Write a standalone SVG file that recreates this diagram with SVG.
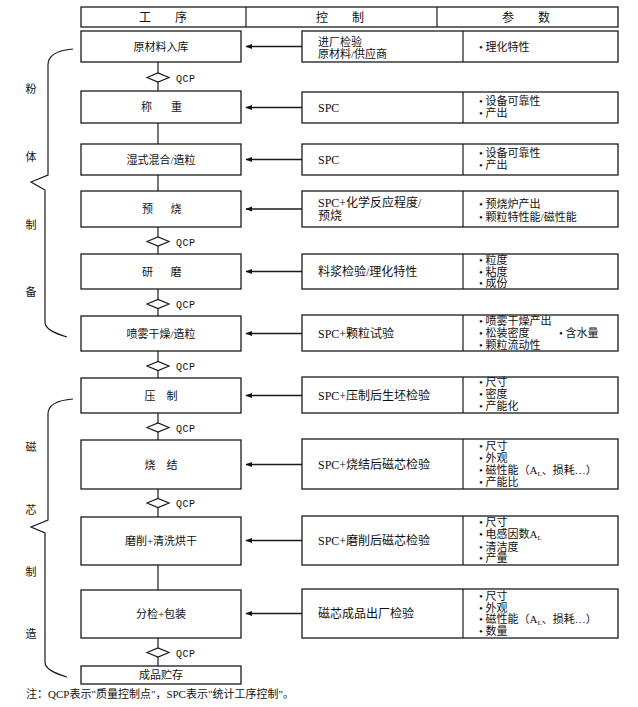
<svg xmlns="http://www.w3.org/2000/svg" width="638" height="707" viewBox="0 0 638 707">
<defs>
<marker id="ah" markerWidth="7" markerHeight="6" refX="6" refY="3" orient="auto" markerUnits="userSpaceOnUse">
<path d="M0,0.6 L6.5,3 L0,5.4 z" fill="#111"/>
</marker>
</defs>
<style>
.box{fill:#fff;stroke:#1a1a1a;stroke-width:1.3}
.ln{fill:none;stroke:#1a1a1a;stroke-width:1.2}
.dm{fill:#fff;stroke:#1a1a1a;stroke-width:1.2}
.ar{stroke:#1a1a1a;stroke-width:1.3;marker-end:url(#ah)}
.t{font-family:'Liberation Serif','Noto Sans CJK SC',serif;font-size:11px;fill:#111}
.c{text-anchor:middle}
.h{font-size:12px}
.k{font-size:12px}
.q{font-family:'Liberation Mono','Noto Sans CJK SC',monospace;font-size:10px;letter-spacing:0.5px;fill:#111}
.sub{font-size:7px}
</style>
<rect width="638" height="707" fill="#fff"/>

<g id="header">
<rect class="box" x="81" y="7" width="537" height="20"/>
<line class="ln" x1="246" y1="7" x2="246" y2="27"/>
<line class="ln" x1="437" y1="7" x2="437" y2="27"/>
<text class="t c h" x="163" y="21.5">工　　序</text>
<text class="t c h" x="340" y="21.5">控　　制</text>
<text class="t c h" x="526" y="21.5">参　　数</text>
</g>

<g id="side-labels">
<path class="ln" d="M73,49 C60,50 48,54 48,65 L48,175 L31,182 L45,190 L45,322 C45,329 54,333 67,337"/>
<path class="ln" d="M73,399 C60,400 48,404 48,414 L48,520 L31,527 L45,533 L45,662 C45,669 54,673 67,677"/>
<text class="t c" x="31" y="93">粉</text>
<text class="t c" x="31" y="161">体</text>
<text class="t c" x="31" y="229">制</text>
<text class="t c" x="31" y="296">备</text>
<text class="t c" x="31" y="451">磁</text>
<text class="t c" x="31" y="514">芯</text>
<text class="t c" x="31" y="576">制</text>
<text class="t c" x="31" y="638">造</text>
</g>

<g id="connectors">
<line class="ln" x1="158" y1="62" x2="158" y2="91"/>
<line class="ln" x1="158" y1="123" x2="158" y2="144"/>
<line class="ln" x1="158" y1="175" x2="158" y2="191"/>
<line class="ln" x1="158" y1="227" x2="158" y2="254"/>
<line class="ln" x1="158" y1="289" x2="158" y2="316"/>
<line class="ln" x1="158" y1="351" x2="158" y2="378"/>
<line class="ln" x1="158" y1="413" x2="158" y2="440"/>
<line class="ln" x1="158" y1="489" x2="158" y2="517"/>
<line class="ln" x1="158" y1="565" x2="158" y2="590"/>
<line class="ln" x1="158" y1="638" x2="158" y2="666"/>
<line class="ar" x1="302" y1="46.5" x2="246" y2="46.5"/>
<line class="ar" x1="302" y1="107.5" x2="246" y2="107.5"/>
<line class="ar" x1="302" y1="159.5" x2="246" y2="159.5"/>
<line class="ar" x1="302" y1="209" x2="246" y2="209"/>
<line class="ar" x1="302" y1="271.5" x2="246" y2="271.5"/>
<line class="ar" x1="302" y1="333.5" x2="246" y2="333.5"/>
<line class="ar" x1="302" y1="395.5" x2="246" y2="395.5"/>
<line class="ar" x1="302" y1="464.5" x2="246" y2="464.5"/>
<line class="ar" x1="302" y1="540.5" x2="246" y2="540.5"/>
<line class="ar" x1="302" y1="613.5" x2="246" y2="613.5"/>
</g>

<g id="qcp-points">
<path class="dm" d="M147,77.5 L158,73 L169,77.5 L158,82 z"/>
<text class="q" x="176" y="81.5">QCP</text>
<path class="dm" d="M147,241.5 L158,237 L169,241.5 L158,246 z"/>
<text class="q" x="176" y="245.5">QCP</text>
<path class="dm" d="M147,304 L158,299.5 L169,304 L158,308.5 z"/>
<text class="q" x="176" y="308">QCP</text>
<path class="dm" d="M147,366 L158,361.5 L169,366 L158,370.5 z"/>
<text class="q" x="176" y="370">QCP</text>
<path class="dm" d="M147,427.5 L158,423 L169,427.5 L158,432 z"/>
<text class="q" x="176" y="431.5">QCP</text>
<path class="dm" d="M147,503 L158,498.5 L169,503 L158,507.5 z"/>
<text class="q" x="176" y="507">QCP</text>
<path class="dm" d="M147,652.5 L158,648 L169,652.5 L158,657 z"/>
<text class="q" x="176" y="656.5">QCP</text>
</g>

<g id="step1">
<rect class="box" x="81" y="31" width="160" height="31"/>
<text class="t c" x="161" y="50.5">原材料入库</text>
</g>
<g id="ctrl1">
<rect class="box" x="302" y="31" width="316" height="31"/>
<line class="ln" x1="463" y1="31" x2="463" y2="62"/>
<text class="t" x="318" y="45.5">进厂检验</text>
<text class="t" x="318" y="57.5">原材料/供应商</text>
<text class="t" x="479" y="51">• 理化特性</text>
</g>

<g id="step2">
<rect class="box" x="81" y="91" width="160" height="32"/>
<text class="t c" x="161" y="111" letter-spacing="-1">称　　重</text>
</g>
<g id="ctrl2">
<rect class="box" x="302" y="92" width="316" height="31"/>
<line class="ln" x1="463" y1="92" x2="463" y2="123"/>
<text class="t k" x="318" y="112">SPC</text>
<text class="t" x="479" y="105">• 设备可靠性</text>
<text class="t" x="479" y="117">• 产出</text>
</g>

<g id="step3">
<rect class="box" x="81" y="144" width="160" height="31"/>
<text class="t c" x="161" y="163.5">湿式混合/造粒</text>
</g>
<g id="ctrl3">
<rect class="box" x="302" y="144" width="316" height="31"/>
<line class="ln" x1="463" y1="144" x2="463" y2="175"/>
<text class="t k" x="318" y="164">SPC</text>
<text class="t" x="479" y="157">• 设备可靠性</text>
<text class="t" x="479" y="169">• 产出</text>
</g>

<g id="step4">
<rect class="box" x="81" y="191" width="160" height="36"/>
<text class="t c" x="161" y="213" letter-spacing="-1.5">预　　烧</text>
</g>
<g id="ctrl4">
<rect class="box" x="302" y="191" width="316" height="36"/>
<line class="ln" x1="463" y1="191" x2="463" y2="227"/>
<text class="t k" x="318" y="207">SPC+化学反应程度/</text>
<text class="t k" x="318" y="220">预烧</text>
<text class="t" x="479" y="208">• 预烧炉产出</text>
<text class="t" x="479" y="221">• 颗粒特性能/磁性能</text>
</g>

<g id="step5">
<rect class="box" x="81" y="254" width="160" height="35"/>
<text class="t c" x="161" y="275.5" letter-spacing="-1.5">研　　磨</text>
</g>
<g id="ctrl5">
<rect class="box" x="302" y="254" width="316" height="35"/>
<line class="ln" x1="463" y1="254" x2="463" y2="289"/>
<text class="t k" x="318" y="276">料浆检验/理化特性</text>
<text class="t" x="479" y="264">• 粒度</text>
<text class="t" x="479" y="276">• 粘度</text>
<text class="t" x="479" y="287">• 成份</text>
</g>

<g id="step6">
<rect class="box" x="81" y="316" width="160" height="35"/>
<text class="t c" x="161" y="337.5">喷雾干燥/造粒</text>
</g>
<g id="ctrl6">
<rect class="box" x="302" y="315" width="316" height="36"/>
<line class="ln" x1="463" y1="315" x2="463" y2="351"/>
<text class="t k" x="318" y="338">SPC+颗粒试验</text>
<text class="t" x="479" y="325">• 喷雾干燥产出</text>
<text class="t" x="479" y="337">• 松装密度</text>
<text class="t" x="559" y="337">• 含水量</text>
<text class="t" x="479" y="349">• 颗粒流动性</text>
</g>

<g id="step7">
<rect class="box" x="81" y="378" width="160" height="35"/>
<text class="t c" x="161" y="399.5">压　制</text>
</g>
<g id="ctrl7">
<rect class="box" x="302" y="377" width="316" height="36"/>
<line class="ln" x1="463" y1="377" x2="463" y2="413"/>
<text class="t k" x="318" y="400">SPC+压制后生坯检验</text>
<text class="t" x="479" y="386">• 尺寸</text>
<text class="t" x="479" y="398">• 密度</text>
<text class="t" x="479" y="410">• 产能化</text>
</g>

<g id="step8">
<rect class="box" x="81" y="440" width="160" height="49"/>
<text class="t c" x="161" y="468.5">烧　结</text>
</g>
<g id="ctrl8">
<rect class="box" x="302" y="439" width="316" height="50"/>
<line class="ln" x1="463" y1="439" x2="463" y2="489"/>
<text class="t k" x="318" y="469">SPC+烧结后磁芯检验</text>
<text class="t" x="479" y="450">• 尺寸</text>
<text class="t" x="479" y="461.5">• 外观</text>
<text class="t" x="479" y="474">• 磁性能（A<tspan class="sub" dy="2">L</tspan><tspan dy="-2">、损耗…）</tspan></text>
<text class="t" x="479" y="486">• 产能比</text>
</g>

<g id="step9">
<rect class="box" x="81" y="517" width="160" height="48"/>
<text class="t c" x="161" y="545">磨削+清洗烘干</text>
</g>
<g id="ctrl9">
<rect class="box" x="302" y="516" width="316" height="49"/>
<line class="ln" x1="463" y1="516" x2="463" y2="565"/>
<text class="t k" x="318" y="545">SPC+磨削后磁芯检验</text>
<text class="t" x="479" y="526">• 尺寸</text>
<text class="t" x="479" y="538">• 电感因数A<tspan class="sub" dy="2">L</tspan></text>
<text class="t" x="479" y="551">• 清洁度</text>
<text class="t" x="479" y="562">• 产量</text>
</g>

<g id="step10">
<rect class="box" x="81" y="590" width="160" height="48"/>
<text class="t c" x="161" y="618">分检+包装</text>
</g>
<g id="ctrl10">
<rect class="box" x="302" y="589" width="316" height="49"/>
<line class="ln" x1="463" y1="589" x2="463" y2="638"/>
<text class="t k" x="318" y="618">磁芯成品出厂检验</text>
<text class="t" x="479" y="600">• 尺寸</text>
<text class="t" x="479" y="611.5">• 外观</text>
<text class="t" x="479" y="623">• 磁性能（A<tspan class="sub" dy="2">L</tspan><tspan dy="-2">、损耗…）</tspan></text>
<text class="t" x="479" y="635">• 数量</text>
</g>

<g id="step11">
<rect class="box" x="81" y="666" width="160" height="18"/>
<text class="t c" x="161" y="679">成品贮存</text>
</g>

<g id="note">
<text class="t" x="26" y="698" font-size="11.5">注：QCP表示"质量控制点"，SPC表示"统计工序控制"。</text>
</g>
</svg>
